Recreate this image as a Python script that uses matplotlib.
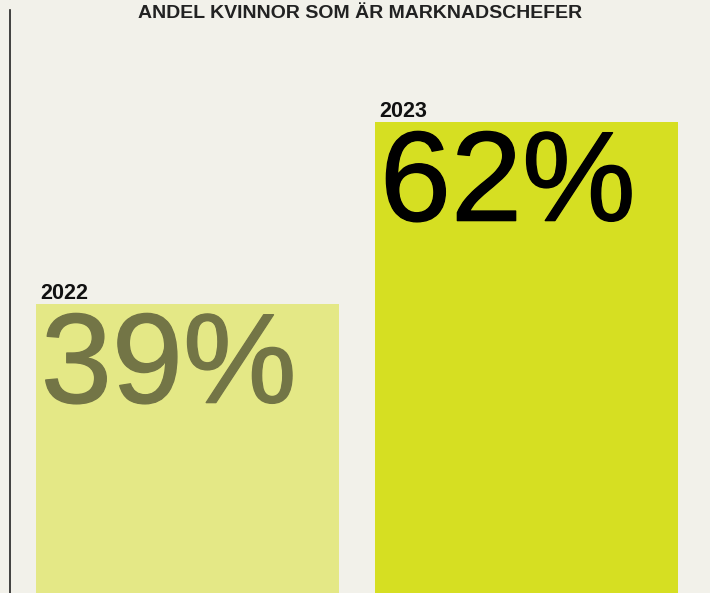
import matplotlib
matplotlib.use('Agg')
import matplotlib.pyplot as plt
import matplotlib.patheffects as pe

title = 'ANDEL KVINNOR SOM ÄR MARKNADSCHEFER'
years = ['2022', '2023']
values = [39, 62]
labels = ['39%', '62%']
bar_colors = ['#e4e886', '#d6df22']
text_colors = ['#737546', '#000000']

bg = '#f2f1ea'
W, H = 710, 593

fig = plt.figure(figsize=(W / 100, H / 100), dpi=100, facecolor=bg)
# axes starts at the thin left rule and stops just under the title
ax = fig.add_axes([9.5 / W, 0, (W - 9.5) / W, (H - 10) / H])
ax.set_facecolor(bg)

x = list(range(len(values)))
ax.bar(x, values, width=303 / 339, color=bar_colors, align='center')

ax.set_xlim(-0.525, 1.541)
ax.set_ylim(2.48, 76.15)

for s in ['top', 'right', 'bottom']:
    ax.spines[s].set_visible(False)
ax.spines['left'].set_color('#222222')
ax.spines['left'].set_linewidth(1.2)
ax.set_xticks([])
ax.set_yticks([])

left_edges = [xi - (303 / 339) / 2 for xi in x]
for i in range(len(values)):
    ax.annotate(years[i], (left_edges[i], values[i]), xytext=(3, 3.5),
                textcoords='offset points', ha='left', va='baseline',
                fontsize=15.5, fontweight='bold', color='#111111',
                family=['Liberation Sans', 'DejaVu Sans'])
    t = ax.annotate(labels[i], (left_edges[i], values[i]), xytext=(3.5, -71),
                    textcoords='offset points', ha='left', va='baseline',
                    fontsize=92, color=text_colors[i],
                    family=['Liberation Sans', 'DejaVu Sans'])
    # the original numbers are a bit heavier than the regular face
    t.set_path_effects([pe.withStroke(linewidth=1.0, foreground=text_colors[i])])

fig.text(0.507, 1 - 17.5 / H, title, ha='center', va='baseline',
         fontsize=14, fontweight='bold', color='#222222',
         family=['Liberation Sans', 'DejaVu Sans'])

fig.savefig('out.png', dpi=100, facecolor=bg)
